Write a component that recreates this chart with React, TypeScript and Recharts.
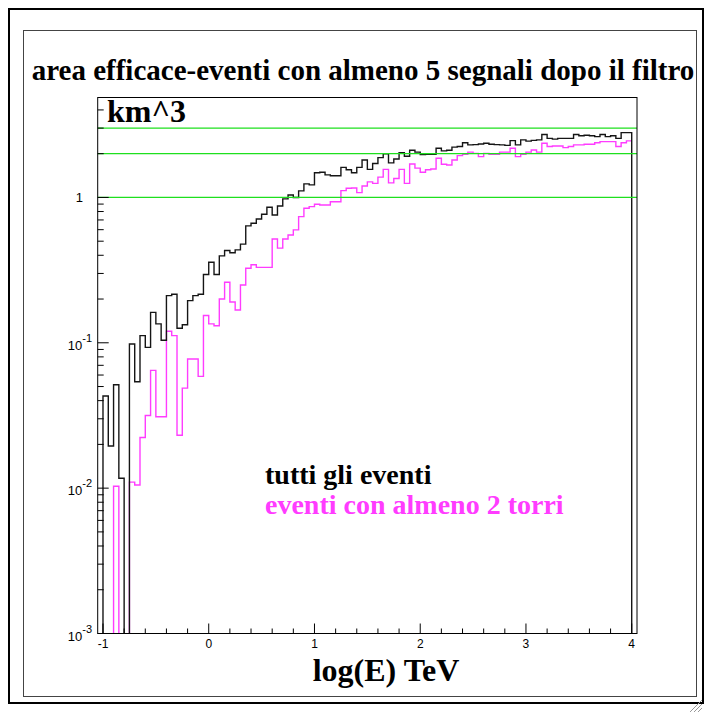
import React from 'react';
import { LineChart, Line, XAxis, YAxis, ReferenceLine } from 'recharts';

// histogram binning: 100 bins of 0.05 in log(E) from -1 to 4
const BIN_LOW = -1;
const BIN_WIDTH = 0.05;

// "tutti gli eventi" (black), km^3 per bin, 0 = empty bin
const tuttiGliEventi = [
  0.043, 0.0195, 0.0515, 0.0117, 0, 0.098, 0.054, 0.112, 0.093, 0.162,
  0.135, 0.104, 0.211, 0.216, 0.126, 0.133, 0.195, 0.211, 0.216, 0.295,
  0.358, 0.295, 0.396, 0.431, 0.416, 0.436, 0.477, 0.637, 0.665, 0.711,
  0.766, 0.856, 0.758, 0.874, 0.977, 1.04, 1.0, 1.11, 1.24, 1.22,
  1.48, 1.49, 1.43, 1.41, 1.41, 1.61, 1.55, 1.48, 1.61, 1.81,
  1.56, 1.71, 1.88, 2.0, 1.73, 1.84, 2.03, 1.92, 2.11, 2.05,
  1.97, 1.98, 1.98, 2.18, 2.09, 2.11, 2.22, 2.24, 2.38, 2.3,
  2.31, 2.33, 2.36, 2.32, 2.31, 2.3, 2.28, 2.46, 2.3, 2.49,
  2.44, 2.47, 2.49, 2.71, 2.55, 2.52, 2.55, 2.55, 2.55, 2.71,
  2.66, 2.68, 2.66, 2.62, 2.71, 2.62, 2.66, 2.55, 2.79, 2.79,
];

// "eventi con almeno 2 torri" (magenta)
const almenoDueTorri = [
  0, 0, 0.0103, 0, 0, 0.011, 0.0105, 0.0223, 0.0316, 0.0646,
  0.031, 0.031, 0.12, 0.112, 0.0231, 0.0488, 0.0773, 0.0773, 0.0587, 0.154,
  0.135, 0.131, 0.2, 0.261, 0.191, 0.168, 0.25, 0.326, 0.344, 0.33,
  0.33, 0.33, 0.518, 0.448, 0.518, 0.552, 0.598, 0.738, 0.842, 0.865,
  0.897, 0.888, 0.888, 0.935, 0.935, 1.114, 1.156, 1.162, 1.08, 1.2,
  1.28, 1.25, 1.38, 1.56, 1.26, 1.35, 1.56, 1.25, 1.7, 1.59,
  1.49, 1.55, 1.57, 1.86, 1.69, 1.67, 1.81, 1.94, 1.98, 2.05,
  2.01, 1.91, 2.01, 1.98, 1.98, 2.05, 2.05, 2.18, 1.91, 1.98,
  2.05, 2.12, 2.05, 2.36, 2.24, 2.26, 2.26, 2.2, 2.24, 2.3,
  2.3, 2.32, 2.32, 2.38, 2.42, 2.42, 2.42, 2.24, 2.38, 2.45,
];

const greenLevels = [1, 2, 3];

const xMajorTicks = [-1, 0, 1, 2, 3, 4];
const xMajorLabels = ['-1', '0', '1', '2', '3', '4'];
const xMinorTicks = [-0.8, -0.6, -0.4, -0.2, 0.2, 0.4, 0.6, 0.8, 1.2, 1.4, 1.6, 1.8,
  2.2, 2.4, 2.6, 2.8, 3.2, 3.4, 3.6, 3.8];

const yMajorTicks = [0.001, 0.01, 0.1, 1];
const yMajorExp = ['-3', '-2', '-1', ''];
const yMinorTicks = [
  0.002, 0.003, 0.004, 0.005, 0.006, 0.007, 0.008, 0.009,
  0.02, 0.03, 0.04, 0.05, 0.06, 0.07, 0.08, 0.09,
  0.2, 0.3, 0.4, 0.5, 0.6, 0.7, 0.8, 0.9,
  2, 3, 4,
];

const W = 712;
const H = 717;
const PLOT = { left: 97.7, right: 637, top: 97.5, bottom: 633.5 };
const Y_AXIS_W = 60;
const X_AXIS_H = 40;
const FLOOR = 1e-4; // empty bins drop below the frame on the log axis

const SERIF = '"Liberation Serif", "Times New Roman", serif';
const SANS = '"Liberation Sans", Arial, sans-serif';

function toSteps(bins: number[], closeRight: boolean) {
  const pts = [{ x: BIN_LOW, v: FLOOR }];
  bins.forEach((v, i) => {
    pts.push({ x: +(BIN_LOW + i * BIN_WIDTH).toFixed(2), v: v > 0 ? v : FLOOR });
  });
  const end = BIN_LOW + bins.length * BIN_WIDTH;
  const last = bins[bins.length - 1];
  pts.push({ x: end, v: last > 0 ? last : FLOOR });
  if (closeRight) pts.push({ x: end, v: FLOOR });
  return pts;
}

const blackSteps = toSteps(tuttiGliEventi, true);
const magentaSteps = toSteps(almenoDueTorri, false);

function XTick(props: any) {
  const { x, payload } = props;
  const idx = xMajorTicks.indexOf(payload.value);
  const major = idx >= 0;
  return (
    <g>
      <line x1={x} x2={x} y1={PLOT.bottom} y2={PLOT.bottom - (major ? 10 : 5)} stroke="#000" />
      {major && (
        <text x={x} y={648} textAnchor="middle" fontFamily={SANS} fontSize={12} fill="#000">
          {xMajorLabels[idx]}
        </text>
      )}
    </g>
  );
}

function YTick(props: any) {
  const { y, payload } = props;
  const idx = yMajorTicks.indexOf(payload.value);
  const major = idx >= 0;
  return (
    <g>
      <line x1={PLOT.left} x2={PLOT.left + (major ? 11 : 6)} y1={y} y2={y} stroke="#000" />
      {major && yMajorExp[idx] === '' && (
        <text x={83} y={y + 5} textAnchor="end" fontFamily={SANS} fontSize={13} fill="#000">
          1
        </text>
      )}
      {major && yMajorExp[idx] !== '' && (
        <text x={92} y={y + 7} textAnchor="end" fontFamily={SANS} fontSize={13} fill="#000">
          10
          <tspan dy={-8} fontSize={11}>
            {yMajorExp[idx]}
          </tspan>
        </text>
      )}
    </g>
  );
}

export default function App() {
  return (
    <div style={{ position: 'absolute', left: 0, top: 0, width: W, height: H, background: '#fff' }}>
      <LineChart
        width={W}
        height={H}
        margin={{
          top: PLOT.top,
          right: W - PLOT.right,
          bottom: H - PLOT.bottom - X_AXIS_H,
          left: PLOT.left - Y_AXIS_W,
        }}
      >
        <XAxis
          type="number"
          dataKey="x"
          domain={[-1.05, 4.05]}
          allowDataOverflow
          ticks={[...xMajorTicks, ...xMinorTicks]}
          interval={0}
          height={X_AXIS_H}
          axisLine={false}
          tickLine={false}
          tick={<XTick />}
        />
        <YAxis
          type="number"
          scale="log"
          domain={[0.001, 4.87]}
          allowDataOverflow
          ticks={[...yMajorTicks, ...yMinorTicks]}
          interval={0}
          width={Y_AXIS_W}
          axisLine={false}
          tickLine={false}
          tick={<YTick />}
        />
        <Line
          data={magentaSteps}
          dataKey="v"
          type="stepAfter"
          stroke="#ff3cff"
          strokeWidth={1.4}
          dot={false}
          isAnimationActive={false}
        />
        <Line
          data={blackSteps}
          dataKey="v"
          type="stepAfter"
          stroke="#151515"
          strokeWidth={1.4}
          dot={false}
          isAnimationActive={false}
        />
        {greenLevels.map((g) => (
          <ReferenceLine key={g} y={g} stroke="#1ee01e" strokeWidth={1.3} />
        ))}
      </LineChart>
      <svg
        width={W}
        height={H}
        style={{ position: 'absolute', left: 0, top: 0, pointerEvents: 'none' }}
      >
        <rect x={9} y={9} width={694} height={694} fill="none" stroke="#000" strokeWidth={2} />
        <rect x={23.5} y={30.5} width={673} height={666} fill="none" stroke="#444" strokeWidth={1} />
        <rect
          x={PLOT.left}
          y={PLOT.top}
          width={PLOT.right - PLOT.left}
          height={PLOT.bottom - PLOT.top}
          fill="none"
          stroke="#000"
          strokeWidth={1}
        />
        <text x={363} y={80} textAnchor="middle" fontFamily={SERIF} fontWeight="bold" fontSize={29} fill="#000">
          area efficace-eventi con almeno 5 segnali dopo il filtro
        </text>
        <text x={107} y={122} fontFamily={SERIF} fontWeight="bold" fontSize={32} fill="#000">
          km^3
        </text>
        <text x={265} y={484} fontFamily={SERIF} fontWeight="bold" fontSize={28} fill="#000">
          tutti gli eventi
        </text>
        <text x={265} y={514} fontFamily={SERIF} fontWeight="bold" fontSize={28} fill="#ff3cff">
          eventi con almeno 2 torri
        </text>
        <text x={386} y={681} textAnchor="middle" fontFamily={SERIF} fontWeight="bold" fontSize={32} fill="#000">
          log(E) TeV
        </text>
        <g stroke="#999" strokeWidth={1}>
          <line x1={690} y1={712} x2={702} y2={700} />
          <line x1={694} y1={712} x2={702} y2={704} />
          <line x1={698} y1={712} x2={702} y2={708} />
        </g>
      </svg>
    </div>
  );
}
